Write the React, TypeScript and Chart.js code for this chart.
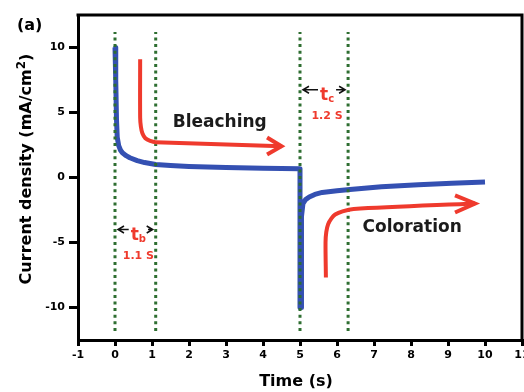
import React, { useEffect, useRef } from 'react';
import { Chart, registerables } from 'chart.js';

Chart.register(...registerables);

const FONT = '"DejaVu Sans", "Liberation Sans", sans-serif';
const BLUE = '#3450b2';
const RED = '#ef3a2d';
const GREEN = '#2e6e31';

// Axis ticks: time (s) and current density (mA/cm²)
const timeTicks = [-1, 0, 1, 2, 3, 4, 5, 6, 7, 8, 9, 10, 11];
const currentTicks = [-10, -5, 0, 5, 10];

// Current density during the bleaching step (0–5 s)
const bleachTime = [0, 0.02, 0.04, 0.06, 0.1, 0.15, 0.2, 0.3, 0.4, 0.6, 0.8, 1.1, 1.5, 2, 3, 4, 5];
const bleachCurrent = [10, 7.5, 4.5, 3.1, 2.45, 2.1, 1.9, 1.68, 1.52, 1.3, 1.15, 1.0, 0.92, 0.85, 0.76, 0.71, 0.68];

// Current density during the colouring step (5–10 s)
const colorTime = [5, 5.03, 5.04, 5.08, 5.15, 5.25, 5.4, 5.6, 6.0, 6.35, 7.2, 8.2, 9.1, 10];
const colorCurrent = [-10, -10, -3, -2, -1.7, -1.5, -1.3, -1.15, -1.02, -0.92, -0.72, -0.55, -0.45, -0.35];

// Response-time markers (dotted verticals)
const markerTimes = [0, 1.1, 5, 6.3];
const markerRange = [-11.8, 11.2];

// Guide arrow: bleaching
const bleachArrowTime = [0.68, 0.68, 0.7, 0.74, 0.82, 0.95, 1.1, 4.5];
const bleachArrowValue = [9.1, 4.6, 3.9, 3.4, 3.02, 2.82, 2.72, 2.41];
const bleachHeadTime = [4.11, 4.5, 4.11];
const bleachHeadValue = [3.08, 2.41, 1.77];

// Guide arrow: coloration
const colorArrowTime = [5.7, 5.69, 5.71, 5.76, 5.85, 5.95, 6.15, 6.45, 9.73];
const colorArrowValue = [-7.7, -5, -4.2, -3.6, -3.15, -2.85, -2.6, -2.42, -2.0];
const colorHeadTime = [9.19, 9.73, 9.19];
const colorHeadValue = [-1.38, -2.0, -2.69];

// Text annotations
const regionLabels = [
  { text: 'Bleaching', t: 2.83, v: 3.85 },
  { text: 'Coloration', t: 8.03, v: -4.23 },
];
const responseSpans = [
  { from: 0, to: 1.1, at: -4.0, sub: 'b', label: '1.1 S' },
  { from: 5, to: 6.3, at: 6.75, sub: 'c', label: '1.2 S' },
];

const pts = (xs: number[], ys: number[]) => xs.map((x, i) => ({ x, y: ys[i] }));

const annotationPlugin = {
  id: 'annotations',
  afterDatasetsDraw(chart: any) {
    const { ctx, scales } = chart;
    const xs = scales.x;
    const ys = scales.y;
    ctx.save();

    ctx.fillStyle = '#1b1b1b';
    ctx.font = `bold 17px ${FONT}`;
    ctx.textAlign = 'center';
    ctx.textBaseline = 'alphabetic';
    for (const l of regionLabels) {
      ctx.fillText(l.text, xs.getPixelForValue(l.t), ys.getPixelForValue(l.v));
    }

    for (const s of responseSpans) {
      const x0 = xs.getPixelForValue(s.from);
      const x1 = xs.getPixelForValue(s.to);
      const yy = ys.getPixelForValue(s.at);
      ctx.font = `bold 17px ${FONT}`;
      const wt = ctx.measureText('t').width;
      ctx.font = `bold 10px ${FONT}`;
      const wsub = ctx.measureText(s.sub).width;
      const w = wt + wsub;
      const cx = (x0 + x1) / 2 + 3;
      const tx = cx - w / 2;

      ctx.fillStyle = RED;
      ctx.textAlign = 'left';
      ctx.font = `bold 17px ${FONT}`;
      ctx.fillText('t', tx, yy + 10);
      ctx.font = `bold 10px ${FONT}`;
      ctx.fillText(s.sub, tx + wt, yy + 12);
      ctx.textAlign = 'center';
      ctx.font = `bold 11px ${FONT}`;
      ctx.fillText(s.label, cx, yy + 29);

      ctx.strokeStyle = '#111';
      ctx.lineWidth = 1.5;
      const l = x0 + 3;
      const r = x1 - 3;
      ctx.beginPath();
      ctx.moveTo(l, yy);
      ctx.lineTo(tx - 2, yy);
      ctx.moveTo(tx + w + 2, yy);
      ctx.lineTo(r, yy);
      ctx.moveTo(l + 6, yy - 3.5);
      ctx.lineTo(l, yy);
      ctx.lineTo(l + 6, yy + 3.5);
      ctx.moveTo(r - 6, yy - 3.5);
      ctx.lineTo(r, yy);
      ctx.lineTo(r - 6, yy + 3.5);
      ctx.stroke();
    }
    ctx.restore();
  },
  afterDraw(chart: any) {
    const { ctx, chartArea } = chart;
    const { left, right, top, bottom } = chartArea;
    ctx.save();

    // top and right edges of the frame
    ctx.strokeStyle = '#000';
    ctx.lineWidth = 3;
    ctx.lineCap = 'square';
    ctx.beginPath();
    ctx.moveTo(left, top);
    ctx.lineTo(right, top);
    ctx.lineTo(right, bottom);
    ctx.stroke();

    ctx.fillStyle = '#000';
    ctx.textBaseline = 'alphabetic';

    // panel tag
    ctx.font = `bold 16px ${FONT}`;
    ctx.textAlign = 'left';
    ctx.fillText('(a)', 17, 30);

    // x-axis title
    ctx.textAlign = 'center';
    ctx.fillText('Time (s)', (left + right) / 2 - 4, 386);

    // y-axis title with superscript
    const main = 'Current density (mA/cm';
    ctx.font = `bold 16px ${FONT}`;
    const wm = ctx.measureText(main).width;
    const wc = ctx.measureText(')').width;
    ctx.font = `bold 12px ${FONT}`;
    const w2 = ctx.measureText('2').width;
    const total = wm + w2 + wc;
    ctx.translate(30.5, (top + bottom) / 2 - 8.5);
    ctx.rotate(-Math.PI / 2);
    ctx.textAlign = 'left';
    const start = -total / 2;
    ctx.font = `bold 16px ${FONT}`;
    ctx.fillText(main, start, 0);
    ctx.font = `bold 12px ${FONT}`;
    ctx.fillText('2', start + wm, -6);
    ctx.font = `bold 16px ${FONT}`;
    ctx.fillText(')', start + wm + w2, 0);

    ctx.restore();
  },
};

export default function App() {
  const canvasRef = useRef<HTMLCanvasElement | null>(null);

  useEffect(() => {
    const canvas = canvasRef.current;
    if (!canvas) return;

    const markerSets = markerTimes.map((t) => ({
      data: pts([t, t], markerRange),
      borderColor: GREEN,
      borderWidth: 3,
      borderDash: [3, 3.6],
      pointRadius: 0,
      showLine: true,
      order: 1,
    }));

    const redLine = (xs: number[], ys: number[], tension: number) => ({
      data: pts(xs, ys),
      borderColor: RED,
      borderWidth: 4,
      pointRadius: 0,
      showLine: true,
      tension,
      borderJoinStyle: 'miter' as const,
      borderCapStyle: 'butt' as const,
      order: 0,
    });

    const chart = new Chart(canvas, {
      type: 'scatter',
      data: {
        datasets: [
          redLine(bleachArrowTime, bleachArrowValue, 0.3),
          redLine(bleachHeadTime, bleachHeadValue, 0),
          redLine(colorArrowTime, colorArrowValue, 0.3),
          redLine(colorHeadTime, colorHeadValue, 0),
          ...markerSets,
          {
            data: pts(bleachTime, bleachCurrent).concat(pts(colorTime, colorCurrent)),
            borderColor: BLUE,
            borderWidth: 5,
            pointRadius: 0,
            showLine: true,
            tension: 0,
            borderJoinStyle: 'round',
            order: 2,
          },
        ],
      },
      options: {
        responsive: false,
        animation: false,
        devicePixelRatio: 1,
        layout: { padding: { top: 15, right: 2, left: 0, bottom: 0 } },
        plugins: {
          legend: { display: false },
          tooltip: { enabled: false },
        },
        scales: {
          x: {
            type: 'linear',
            min: -1,
            max: 11,
            afterBuildTicks: (scale: any) => {
              scale.ticks = timeTicks.map((v) => ({ value: v }));
            },
            afterFit: (scale: any) => {
              scale.height = 52;
              scale.paddingLeft = 0;
              scale.paddingRight = 0;
            },
            grid: {
              drawOnChartArea: false,
              drawTicks: true,
              tickLength: 6,
              lineWidth: 3,
              color: '#000',
            },
            border: { display: true, width: 3, color: '#000' },
            ticks: {
              color: '#000',
              padding: 3,
              maxRotation: 0,
              autoSkip: false,
              font: { family: FONT, size: 11, weight: 'bold' },
            },
          },
          y: {
            type: 'linear',
            min: -12.5,
            max: 12.5,
            afterBuildTicks: (scale: any) => {
              scale.ticks = currentTicks.map((v) => ({ value: v }));
            },
            afterFit: (scale: any) => {
              scale.width = 78;
              scale.paddingTop = 0;
              scale.paddingBottom = 0;
            },
            grid: {
              drawOnChartArea: false,
              drawTicks: true,
              tickLength: 9,
              lineWidth: 3,
              color: '#000',
            },
            border: { display: true, width: 3, color: '#000' },
            ticks: {
              color: '#000',
              padding: 4,
              autoSkip: false,
              font: { family: FONT, size: 11, weight: 'bold' },
            },
          },
        },
      },
      plugins: [annotationPlugin],
    } as any);

    return () => chart.destroy();
  }, []);

  return (
    <div style={{ position: 'absolute', left: 0, top: 0, width: 524, height: 392, background: '#fff' }}>
      <canvas ref={canvasRef} width={524} height={392} />
    </div>
  );
}
